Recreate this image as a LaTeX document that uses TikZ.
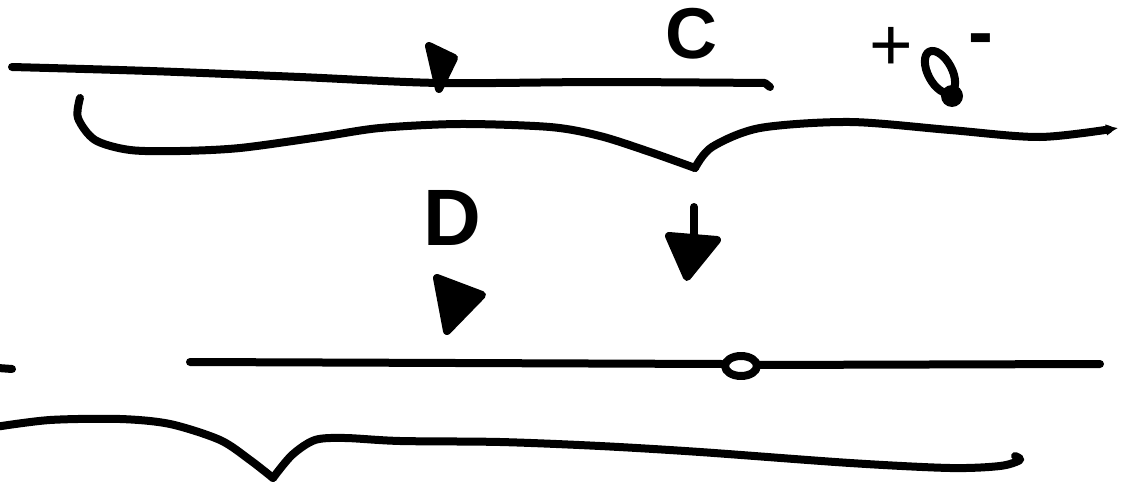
\documentclass[tikz,border=0pt]{standalone}
\usepackage{fontspec}
\setsansfont{Liberation Sans}
\usetikzlibrary{arrows.meta}
\tikzset{
  ink/.style={line width=6pt, line cap=round, line join=round, black},
  inkfill/.style={ink, fill=black},
  sketchtext/.style={inner sep=0pt, font=\sffamily},
}
\begin{document}
\begin{tikzpicture}[x=0.75pt, y=-0.75pt]
\useasboundingbox (0,0) rectangle (1133,489);
% top line
\draw[ink] plot[smooth] coordinates {(12,67) (150,71) (300,77) (440,83) (600,82) (765,83)} -- (770,87);
% filled marker on top line
\filldraw[inkfill] (429,46) -- (454,58) -- (439,89) -- cycle;
% C label
\node[sketchtext, font=\sffamily\bfseries\fontsize{54}{54}\selectfont] (C) at (691,34) {C};
% + and - with loop
\node[sketchtext, font=\sffamily\fontsize{56}{56}\selectfont] (plus) at (891,49) {+};
\node[sketchtext, font=\sffamily\bfseries\fontsize{56}{56}\selectfont] (minus) at (981,46) {-};
\draw[ink, rotate around={-62:(940,72)}] (940,72) ellipse (23 and 12);
\fill (952,96) circle (11);
% upper brace with arrow
\draw[ink] plot[smooth] coordinates {(80,98) (78,118) (95,140) (130,150) (180,151) (240,148) (320,137) (380,128) (460,124) (550,127) (600,136) (650,152) (695,168)};
\draw[ink, -{Latex[length=9pt,width=9pt]}] plot[smooth] coordinates {(695,168) (712,147) (760,128) (850,122) (950,130) (1040,137) (1118,128)};
% D label
\node[sketchtext, font=\sffamily\bfseries\fontsize{60}{60}\selectfont] (D) at (452,218) {D};
% right-pointing triangle
\filldraw[inkfill] (437,278) -- (482,295) -- (447,331) -- cycle;
% down arrow
\draw[ink] (694,207) -- (694,242);
\filldraw[inkfill] (669,236) -- (717,240) -- (687,277) -- cycle;
% lower line with small circle
\draw[ink] (190,362) -- (722,364);
\draw[ink] (741,366) ellipse (16 and 10);
\draw[ink] (757,365) -- (1100,364);
% left stub
\draw[ink] (-2,368) -- (12,369);
% lower brace
\draw[ink] plot[smooth] coordinates {(-5,427) (50,420) (120,419) (170,424) (220,440) (250,460) (273,478)};
\draw[ink] plot[smooth] coordinates {(273,478) (292,455) (315,440) (345,438) (400,441) (500,442) (600,446) (700,452) (850,463) (950,468) (1000,466) (1020,460) (1015,456)};
\end{tikzpicture}
\end{document}
